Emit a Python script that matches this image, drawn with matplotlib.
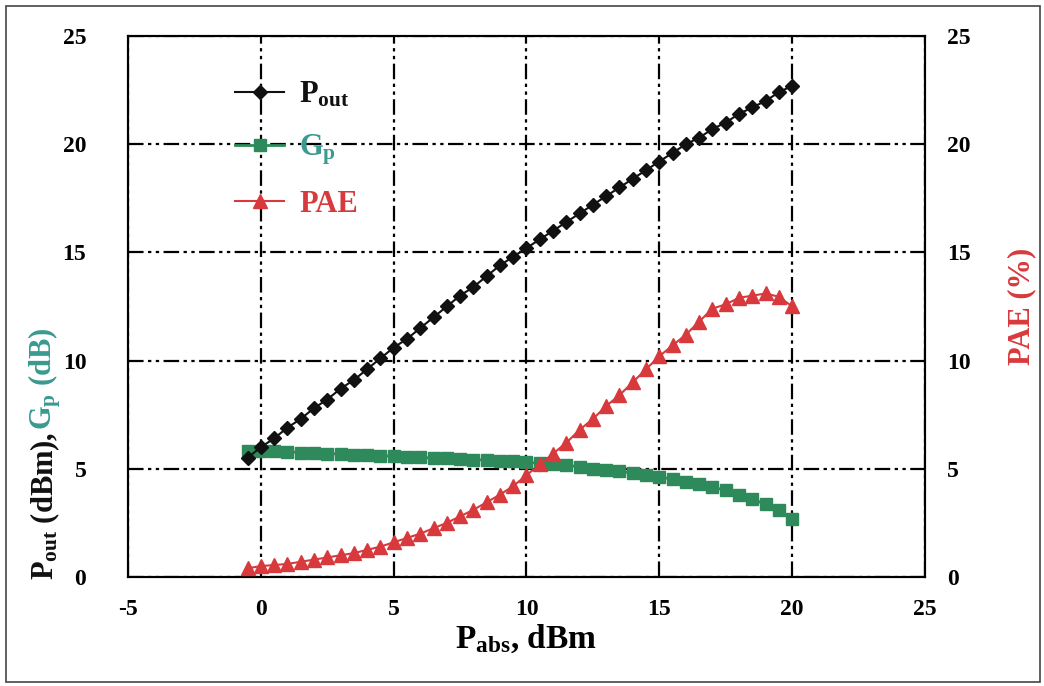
import matplotlib
matplotlib.use('Agg')
import matplotlib.pyplot as plt
from matplotlib.patches import Rectangle

plt.rcParams['font.family'] = ['Liberation Serif', 'DejaVu Serif']
plt.rcParams['font.weight'] = 'bold'
plt.rcParams['axes.labelweight'] = 'bold'
plt.rcParams['axes.unicode_minus'] = False
plt.rcParams['mathtext.fontset'] = 'custom'
plt.rcParams['mathtext.rm'] = 'Liberation Serif:bold'
plt.rcParams['mathtext.it'] = 'Liberation Serif:bold'
plt.rcParams['mathtext.bf'] = 'Liberation Serif:bold'

# input power (dBm)
p_abs = [-0.5, 0, 0.5, 1, 1.5, 2, 2.5, 3, 3.5, 4, 4.5, 5, 5.5, 6, 6.5, 7, 7.5, 8, 8.5, 9,
         9.5, 10, 10.5, 11, 11.5, 12, 12.5, 13, 13.5, 14, 14.5, 15, 15.5, 16, 16.5, 17,
         17.5, 18, 18.5, 19, 19.5, 20]

p_out = [5.5, 6.0, 6.4, 6.9, 7.3, 7.8, 8.2, 8.7, 9.1, 9.6, 10.1, 10.6, 11.0, 11.5, 12.0,
         12.5, 13.0, 13.4, 13.9, 14.4, 14.8, 15.2, 15.6, 16.0, 16.4, 16.8, 17.2, 17.6,
         18.0, 18.4, 18.8, 19.2, 19.6, 20.0, 20.3, 20.7, 21.0, 21.4, 21.7, 22.0, 22.4, 22.7]

gp = [5.8, 5.8, 5.8, 5.78, 5.75, 5.72, 5.7, 5.68, 5.65, 5.62, 5.6, 5.58, 5.55, 5.52, 5.5,
      5.48, 5.45, 5.42, 5.4, 5.38, 5.35, 5.3, 5.25, 5.2, 5.15, 5.1, 5.0, 4.95, 4.88, 4.8,
      4.72, 4.62, 4.52, 4.4, 4.28, 4.15, 4.0, 3.8, 3.6, 3.35, 3.1, 2.7]

pae = [0.4, 0.5, 0.55, 0.6, 0.7, 0.8, 0.9, 1.0, 1.1, 1.25, 1.4, 1.6, 1.8, 2.0, 2.25, 2.5,
       2.8, 3.1, 3.45, 3.8, 4.2, 4.7, 5.2, 5.7, 6.2, 6.8, 7.3, 7.9, 8.4, 9.0, 9.6, 10.2,
       10.7, 11.2, 11.8, 12.4, 12.6, 12.9, 13.0, 13.1, 12.95, 12.5]

ticks = [0, 5, 10, 15, 20, 25]
xticks = [-5, 0, 5, 10, 15, 20, 25]

black = '#111111'
green = '#2e8a5a'
teal = '#3a9a90'
red = '#d8393c'

fig = plt.figure(figsize=(10.44, 6.86), dpi=100)
ax = fig.add_axes([0.1226, 0.159, 0.7634, 0.7885])
ax2 = ax.twinx()

ax.plot(p_abs, p_out, color=black, marker='D', markersize=7, lw=1.5, label='P$_\\mathrm{out}$', zorder=4)
ax.plot(p_abs, gp, color=green, marker='s', markersize=9, lw=2, label='G$_\\mathrm{p}$', zorder=3)
ax2.plot(p_abs, pae, color=red, marker='^', markersize=10, lw=1.5, label='PAE', zorder=3)

ax.set_xlim(-5, 25)
ax.set_ylim(0, 25)
ax2.set_ylim(0, 25)
ax.set_xticks(xticks)
ax.set_yticks(ticks)
ax2.set_yticks(ticks)

ax.grid(True, color='black', lw=1.6, linestyle=(0, (7, 2, 1.5, 2, 1.5, 2)))
ax.set_axisbelow(True)
for a in (ax, ax2):
    a.tick_params(length=0, labelsize=17)
    for s in a.spines.values():
        s.set_linewidth(1.5)
ax.tick_params(axis='y', pad=30)
ax.tick_params(axis='x', pad=16)
ax2.tick_params(axis='y', pad=16)

ax.set_xlabel('P$_\\mathrm{abs}$, dBm', fontsize=24, labelpad=2)
ax2.set_ylabel('PAE (%)', fontsize=22, color=red, labelpad=26)

# two-colour left axis label
fig.canvas.draw()
r = fig.canvas.get_renderer()
t1 = fig.text(0.043, 0.155, 'P$_\\mathrm{out}$ (dBm), ', rotation=90, fontsize=22,
              color=black, ha='center', va='bottom')
bb = t1.get_window_extent(renderer=r).transformed(fig.transFigure.inverted())
fig.text(0.043, bb.y1, 'G$_\\mathrm{p}$ (dB)', rotation=90, fontsize=22,
         color=teal, ha='center', va='bottom')

h1, l1 = ax.get_legend_handles_labels()
h2, l2 = ax2.get_legend_handles_labels()
leg = ax2.legend(h1 + h2, l1 + l2, loc='upper left', bbox_to_anchor=(0.1, 0.97),
                 frameon=False, fontsize=22, handlelength=1.6, labelspacing=0.75,
                 handletextpad=0.5)
for txt, c in zip(leg.get_texts(), [black, teal, red]):
    txt.set_color(c)

fig.patches.append(Rectangle((0.006, 0.006), 0.99, 0.985, transform=fig.transFigure,
                             fill=False, edgecolor='#444444', lw=1.2))

fig.savefig('out.png', dpi=100)
